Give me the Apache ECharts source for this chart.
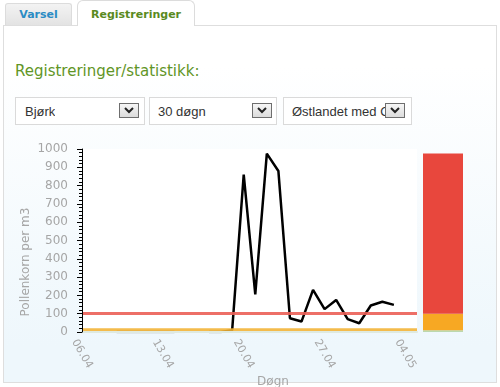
<!DOCTYPE html>
<html>
<head>
<meta charset="utf-8">
<script src="https://cdn.jsdelivr.net/npm/echarts@6/dist/echarts.min.js"></script>
<style>
  html,body{margin:0;padding:0;width:500px;height:387px;overflow:hidden;background:#fff;font-family:"DejaVu Sans",sans-serif;}
  #panel{position:absolute;left:3px;top:25px;width:492px;height:356px;border:1px solid #dedede;
    background:linear-gradient(to bottom,#ffffff 0px,#ffffff 40px,#eef7fc 320px,#eef7fc 100%);}
  #chart{position:absolute;left:0;top:0;width:500px;height:387px;}
  .tab{position:absolute;box-sizing:border-box;border:1px solid #dcdcdc;border-bottom:none;
    font-weight:bold;font-size:11px;text-align:center;}
  #tab1{left:5px;top:3px;width:67px;height:22px;line-height:21px;color:#2b8cc4;
    background:linear-gradient(to bottom,#f3f3f3,#e3e3e3);border-radius:3px 3px 0 0;}
  #tab2{left:77px;top:0px;width:118px;height:26px;line-height:27px;color:#5a8a1e;background:#fff;
    border-radius:6px 6px 0 0;z-index:3;}
  #title{position:absolute;left:15px;top:62px;font-size:15px;color:#619526;white-space:nowrap;}
  .sel{position:absolute;top:97px;height:28px;box-sizing:border-box;border:1px solid #dadada;background:#fff;
    font-family:"Liberation Sans",Arial,sans-serif;font-size:13px;color:#333;}
  .sel .txt{position:absolute;top:6px;white-space:nowrap;overflow:hidden;}
  .sel .btn{position:absolute;top:5px;width:20px;height:15px;box-sizing:border-box;border:1px solid #6e6e6e;
    background:linear-gradient(to bottom,#f6f6f6,#dcdcdc);}
  .sel .btn svg{position:absolute;left:4px;top:3px;}
</style>
</head>
<body>
<div id="panel"></div>
<div id="tab1" class="tab">Varsel</div>
<div id="tab2" class="tab">Registreringer</div>
<div id="title">Registreringer/statistikk:</div>
<div class="sel" style="left:15px;width:130px;"><span class="txt" style="left:9px;">Bjørk</span>
  <span class="btn" style="left:103px;"><svg width="10" height="7"><path d="M1 1 L5 5 L9 1" stroke="#222" stroke-width="2" fill="none"/></svg></span></div>
<div class="sel" style="left:149px;width:128px;"><span class="txt" style="left:8px;">30 døgn</span>
  <span class="btn" style="left:102px;"><svg width="10" height="7"><path d="M1 1 L5 5 L9 1" stroke="#222" stroke-width="2" fill="none"/></svg></span></div>
<div class="sel" style="left:283px;width:129px;"><span class="txt" style="left:8px;width:94px;">Østlandet med Oslo</span>
  <span class="btn" style="left:101px;"><svg width="10" height="7"><path d="M1 1 L5 5 L9 1" stroke="#222" stroke-width="2" fill="none"/></svg></span></div>
<div id="chart"></div>
<script>
// Categories: 30 days
const days = ['06.04','07.04','08.04','09.04','10.04','11.04','12.04','13.04','14.04','15.04',
  '16.04','17.04','18.04','19.04','20.04','21.04','22.04','23.04','24.04','25.04',
  '26.04','27.04','28.04','29.04','30.04','01.05','02.05','03.05','04.05','05.05'];
// Pollen grains per m3 (null = no registration)
const pollen = [null,null,null,0,0,0,0,0,0,null,
  null,0,0,10,860,205,975,880,75,57,
  230,125,175,70,48,145,165,148,null,null];
// Level thresholds
const lowLimit = 10;
const highLimit = 100;
const maxValue = Math.max(...pollen.filter(v => v !== null));
// Stacked level bar: green (0-10), orange (10-100), red (100-max)
const levelBar = [lowLimit, highLimit - lowLimit, maxValue - highLimit];
const yMin = 0, yMax = 1000, yStep = 100;

const chart = echarts.init(document.getElementById('chart'), null, {renderer:'canvas'});
const gray = '#a6a6a6';
const font = 'DejaVu Sans';
chart.setOption({
  backgroundColor: 'transparent',
  animation: false,
  grid: [
    {left:82, top:149, width:335, height:183, show:true, backgroundColor:'#fff', borderWidth:0},
    {left:423, top:149, width:40, height:183, show:false}
  ],
  xAxis: [
    {gridIndex:0, type:'category', data:days, boundaryGap:false, z:6,
      axisLine:{show:true, lineStyle:{color:'#dfeae0', width:2}},
      axisTick:{show:false},
      axisLabel:{interval:6, rotate:-60, align:'center', verticalAlign:'middle', margin:22,
        color:gray, fontSize:11, fontFamily:font},
      splitLine:{show:false}},
    {gridIndex:1, type:'category', data:['nivå'], show:false}
  ],
  yAxis: [
    {gridIndex:0, type:'value', min:yMin, max:yMax, interval:yStep, z:7,
      axisLine:{show:true, lineStyle:{color:'#000', width:1}},
      axisTick:{show:true, length:5, lineStyle:{color:'#000'}},
      minorTick:{show:true, splitNumber:5, length:3, lineStyle:{color:'#000'}},
      splitLine:{show:false},
      axisLabel:{margin:14, color:gray, fontSize:12, fontFamily:font, formatter: v => String(v)}},
    {gridIndex:1, type:'value', min:yMin, max:yMax, show:false, splitLine:{show:false}}
  ],
  graphic: [
    {type:'text', x:26, y:262, rotation:Math.PI/2,
      style:{text:'Pollenkorn per m3', fill:gray, font:'12px "DejaVu Sans"', align:'center', verticalAlign:'middle'}},
    {type:'text', x:273, y:376,
      style:{text:'Døgn', fill:gray, font:'12px "DejaVu Sans"', align:'center', verticalAlign:'top'}}
  ],
  series: [
    {type:'line', xAxisIndex:0, yAxisIndex:0, data:[], z:2,
      markLine:{silent:true, symbol:['none','none'], label:{show:false},
        lineStyle:{color:'#eb5f56', width:3, type:'solid', opacity:0.9},
        data:[{yAxis:highLimit}]}},
    {type:'line', xAxisIndex:0, yAxisIndex:0, data:pollen, z:3,
      showSymbol:false, connectNulls:false,
      lineStyle:{color:'#000', width:2.5}, itemStyle:{color:'#000'}},
    {type:'line', xAxisIndex:0, yAxisIndex:0, data:[], z:4,
      markLine:{silent:true, symbol:['none','none'], label:{show:false},
        lineStyle:{color:'#f2b233', width:3.5, type:'solid', opacity:0.88},
        data:[{yAxis:lowLimit}]}},
    {type:'bar', xAxisIndex:1, yAxisIndex:1, stack:'nivå', barWidth:'100%', data:[levelBar[0]], itemStyle:{color:'#bcd8ae'}},
    {type:'bar', xAxisIndex:1, yAxisIndex:1, stack:'nivå', barWidth:'100%', data:[levelBar[1]], itemStyle:{color:'#f7a823'}},
    {type:'bar', xAxisIndex:1, yAxisIndex:1, stack:'nivå', barWidth:'100%', data:[levelBar[2]], itemStyle:{color:'#e8473d'}}
  ]
});
</script>
</body>
</html>
